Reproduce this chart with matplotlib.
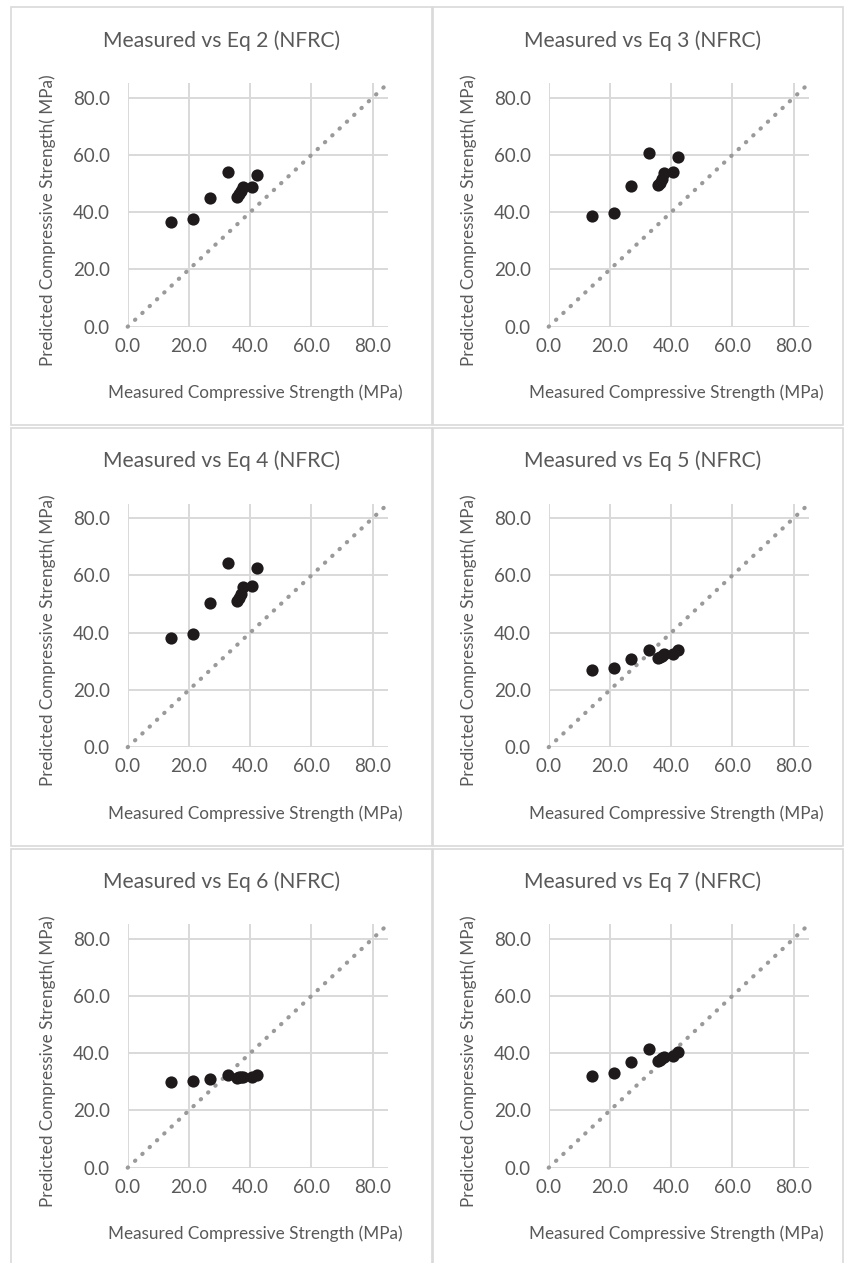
import matplotlib.pyplot as plt
from matplotlib.patches import Rectangle

plt.rcParams['font.family'] = ['Lato', 'DejaVu Sans']

# measured strengths (same for every panel)
measured = [14.3, 21.2, 27.0, 32.6, 35.6, 36.3, 37.0, 37.7, 40.6, 42.3]

# predicted strengths per equation
eq2 = [36.4, 37.6, 44.9, 54.0, 45.2, 46.2, 47.3, 48.8, 48.8, 52.9]
eq3 = [38.6, 39.7, 49.0, 60.5, 49.4, 50.3, 51.5, 53.7, 54.0, 59.2]
eq4 = [38.1, 39.5, 50.3, 64.5, 51.0, 52.0, 53.5, 56.0, 56.3, 62.7]
eq5 = [27.1, 27.7, 30.8, 34.1, 31.0, 31.5, 32.0, 32.4, 32.6, 33.8]
eq6 = [30.0, 30.2, 31.1, 32.3, 31.4, 31.5, 31.6, 31.7, 31.8, 32.3]
eq7 = [32.1, 32.9, 36.8, 41.3, 37.2, 37.6, 38.2, 38.6, 39.1, 40.5]

titles = ["Measured vs Eq 2 (NFRC)", "Measured vs Eq 3 (NFRC)",
          "Measured vs Eq 4 (NFRC)", "Measured vs Eq 5 (NFRC)",
          "Measured vs Eq 6 (NFRC)", "Measured vs Eq 7 (NFRC)"]
series = [eq2, eq3, eq4, eq5, eq6, eq7]
ticks = [0, 20, 40, 60, 80]
line_ref = [0, 85]

W, H = 844, 1263
fig = plt.figure(figsize=(W / 100, H / 100), dpi=100)

txt = '#595959'
grid = '#d9d9d9'

# panel frames (pixels)
cols = [(11, 432), (433, 843)]
rows = [(7, 425), (428, 846), (849, 1270)]
for (y0, y1) in rows:
    for (x0, x1) in cols:
        fig.add_artist(Rectangle((x0 / W, 1 - y1 / H), (x1 - x0) / W, (y1 - y0) / H,
                                 transform=fig.transFigure, fill=False,
                                 edgecolor=grid, lw=1.2))

for i, (title, pred) in enumerate(zip(titles, series)):
    r, c = divmod(i, 2)
    dx = 421 * c
    dy = 420.5 * r
    left = 127.7 + dx
    right = 388.0 + dx
    top = 83.3 + dy
    bottom = 326.7 + dy
    ax = fig.add_axes([left / W, 1 - bottom / H, (right - left) / W, (bottom - top) / H])
    ax.set_xlim(0, 85)
    ax.set_ylim(0, 85)
    ax.set_xticks(ticks)
    ax.set_yticks(ticks)
    ax.set_xticklabels([f"{t:.1f}" for t in ticks])
    ax.set_yticklabels([f"{t:.1f}" for t in ticks])
    ax.grid(True, color=grid, lw=1.4)
    ax.set_axisbelow(True)
    for s in ax.spines.values():
        s.set_visible(False)
    ax.tick_params(length=0, labelsize=13.5, colors=txt, pad=8)
    ax.tick_params(axis='y', pad=13)

    ax.plot(line_ref, line_ref, color='#9a9a9a', lw=3.0,
            linestyle=(0, (0.1, 2.3)), dash_capstyle='round', clip_on=False)
    ax.plot(measured, pred, 'o', color='#1e1a1b', ms=8.8, mec='none', clip_on=False)

    fig.text((222 + dx) / W, 1 - (40.7 + dy) / H, title, ha='center', va='center',
             fontsize=15.2, color=txt)
    fig.text((255 + dx) / W, 1 - (393 + dy) / H, "Measured Compressive Strength (MPa)",
             ha='center', va='center', fontsize=12.3, color=txt)
    fig.text((48 + dx) / W, 1 - (220 + dy) / H, "Predicted Compressive Strength( MPa)",
             ha='center', va='center', rotation=90, fontsize=12.3, color=txt)

fig.savefig('out.png', dpi=100)
